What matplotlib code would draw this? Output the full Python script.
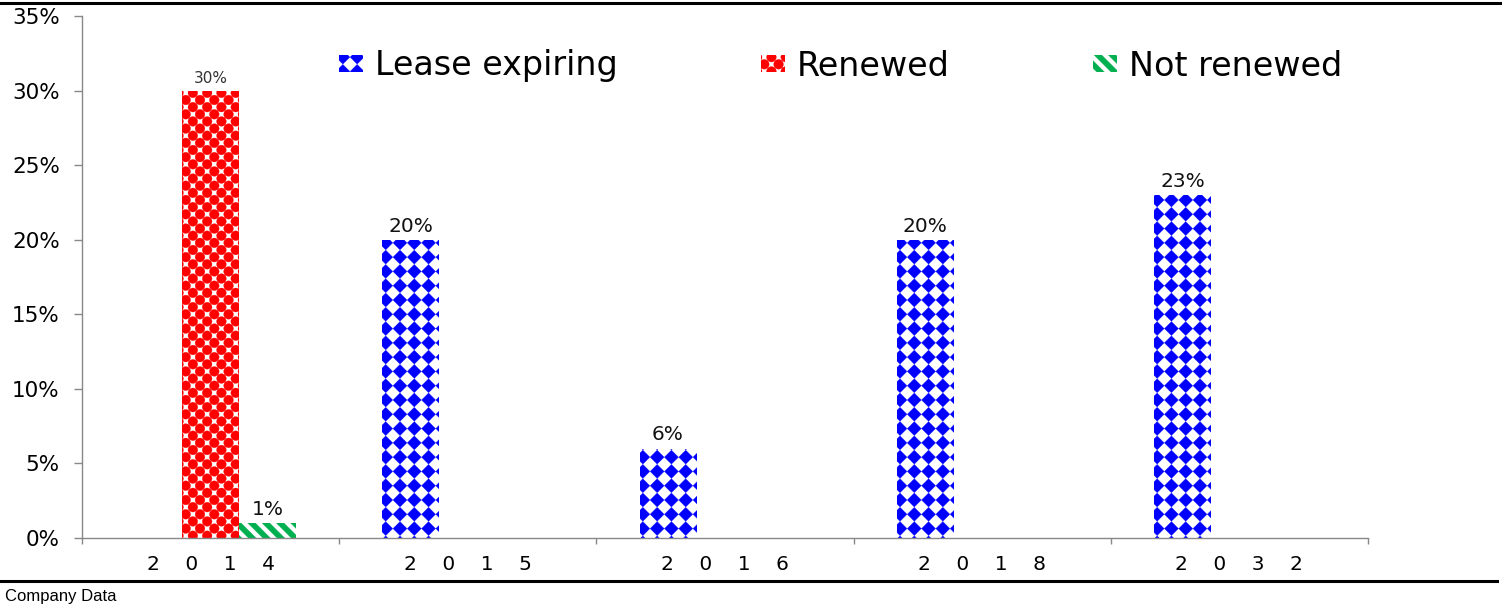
import numpy as np
import matplotlib
matplotlib.use('Agg')
import matplotlib.pyplot as plt
import matplotlib.hatch as mhatch
from matplotlib.path import Path
from matplotlib.lines import Line2D

# ---------------- data ----------------
years = ['2014', '2015', '2016', '2018', '2032']
lease_expiring = [0, 20, 6, 20, 23]
renewed = [30, 0, 0, 0, 0]
not_renewed = [1, 0, 0, 0, 0]
series_names = ['Lease expiring', 'Renewed', 'Not renewed']
yticks = [0, 5, 10, 15, 20, 25, 30, 35]
source_text = 'Company Data'


# ---------------- custom fill patterns ----------------
class _ShapeGrid(mhatch.HatchPatternBase):
    char = ''

    def __init__(self, hatch, density):
        self.on = bool(self.char) and hatch is not None and self.char in hatch
        if self.on:
            self._verts, self._codes = self._build()
            self.num_vertices = len(self._verts)
        else:
            self.num_vertices = 0

    def set_vertices_and_codes(self, vertices, codes):
        vertices[:] = self._verts
        codes[:] = self._codes


class _Diamonds(_ShapeGrid):
    char = '*'
    n = 7

    def _build(self):
        n = self.n
        r = 0.49 / n
        base = np.array([[0, r], [r, 0], [0, -r], [-r, 0], [0, r]])
        bc = [Path.MOVETO, Path.LINETO, Path.LINETO, Path.LINETO, Path.CLOSEPOLY]
        V, C = [], []
        for i in range(-1, n + 2):
            for j in range(-1, n + 2):
                V.append(base + [i / n, j / n])
                C.extend(bc)
        return np.concatenate(V), np.array(C, dtype=Path.code_type)


class _Dots(_ShapeGrid):
    char = 'O'
    n = 7

    def _build(self):
        n = self.n
        r = 0.34 / n
        circ = Path.unit_circle()
        base = circ.vertices * r
        bc = list(circ.codes)
        V, C = [], []
        for row in range(-1, 2 * n + 2):
            y = row / (2 * n)
            shift = 0.5 / n if row % 2 else 0.0
            for i in range(-1, n + 2):
                V.append(base + [i / n + shift, y])
                C.extend(bc)
        return np.concatenate(V), np.array(C, dtype=Path.code_type)


class _Stripes(_ShapeGrid):
    char = '\\'
    n = 7

    def _build(self):
        n = self.n
        h = 0.27 / n
        t0, t1 = -1.0, 2.0
        V, C = [], []
        for k in range(-1, 2 * n + 2):
            c = k / n
            poly = np.array([[t0, c - h - t0], [t1, c - h - t1],
                             [t1, c + h - t1], [t0, c + h - t0],
                             [t0, c - h - t0]])
            V.append(poly)
            C.extend([Path.MOVETO, Path.LINETO, Path.LINETO, Path.LINETO,
                      Path.CLOSEPOLY])
        return np.concatenate(V), np.array(C, dtype=Path.code_type)


mhatch._hatch_types = [_Diamonds, _Dots, _Stripes]
plt.rcParams['hatch.linewidth'] = 0.2
plt.rcParams['font.family'] = ['DejaVu Sans']

# ---------------- figure ----------------
W, H = 1502, 610
fig = plt.figure(figsize=(W / 100, H / 100), dpi=100)
ax = fig.add_axes([82 / W, 1 - 538 / H, (1368 - 82) / W, (538 - 16) / H])

x = np.arange(len(years))
bw = 0.2216
styles = [
    dict(edgecolor='#0000FF', hatch='*'),
    dict(edgecolor='#FF0000', hatch='O'),
    dict(edgecolor='#00B050', hatch='\\'),
]
series = [lease_expiring, renewed, not_renewed]
offsets = [-bw, 0.0, bw]
label_sizes = [14.5, 11, 14.5]
label_colors = ['#111111', '#333333', '#111111']
containers = []
for vals, off, st, name, fs, lc in zip(series, offsets, styles, series_names,
                                       label_sizes, label_colors):
    cont = ax.bar(x + off, vals, bw, facecolor='white', linewidth=0,
                  label=name, **st)
    containers.append(cont)
    labs = [f'{v:.0f}%' if v > 0 else '' for v in vals]
    ax.bar_label(cont, labels=labs, padding=3, fontsize=fs, color=lc)

ax.set_ylim(0, 35)
ax.set_yticks(yticks)
ax.set_yticklabels([f'{t}%' for t in yticks], fontsize=15.5)
ax.set_xlim(-0.5, len(years) - 0.5)
ax.set_xticks(np.arange(-0.5, len(years), 1.0))
ax.set_xticklabels([])
ax.set_xticks(x, minor=True)
ax.set_xticklabels(['    '.join(y) for y in years], minor=True, fontsize=14.5)
ax.tick_params(axis='x', which='minor', length=0, pad=12)
ax.tick_params(axis='x', which='major', length=4.5, color='#888888', width=1)
ax.tick_params(axis='y', length=6, color='#888888', width=1, pad=10)

for s in ['top', 'right']:
    ax.spines[s].set_visible(False)
for s in ['left', 'bottom']:
    ax.spines[s].set_color('#888888')
    ax.spines[s].set_linewidth(1)

ax.legend(ncol=3, loc='center left', bbox_to_anchor=(339 / W, 1 - 66 / H),
          bbox_transform=fig.transFigure, frameon=False, fontsize=24,
          handlelength=0.72, handleheight=0.4, handletextpad=0.36,
          columnspacing=4.3, borderpad=0, borderaxespad=0)

# top and bottom rules + source
fig.add_artist(Line2D([0, 1], [1 - 2.5 / H] * 2, transform=fig.transFigure,
                      color='black', lw=2.2))
fig.add_artist(Line2D([0, 1497 / W], [1 - 581 / H] * 2,
                      transform=fig.transFigure, color='black', lw=2.2))
fig.text(5 / W, 1 - 596 / H, source_text, fontsize=12,
         family='Liberation Sans', va='center', ha='left')

fig.savefig('out.png', dpi=100)
